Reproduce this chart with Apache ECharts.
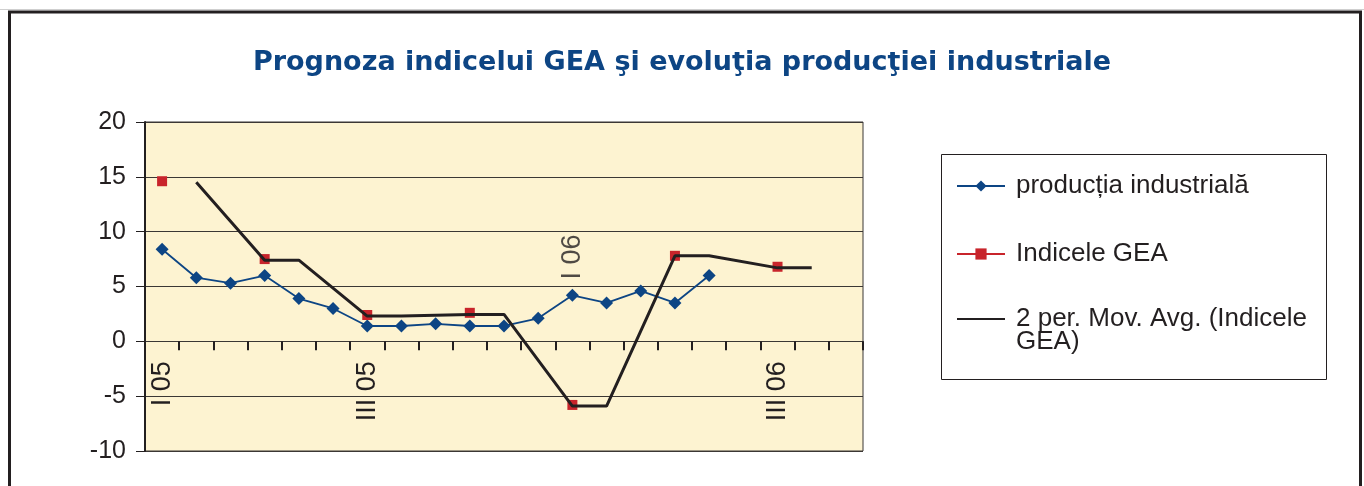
<!DOCTYPE html>
<html><head><meta charset="utf-8">
<script src="https://cdn.jsdelivr.net/npm/echarts@6/dist/echarts.min.js"></script>
<style>html,body{margin:0;padding:0;background:#fff}#c{width:1364px;height:486px}</style>
</head><body><div id="c"></div>
<script>
// ---- data ----
const categories = ['I 05','','','','','','III 05','','','','','','I 06','','','','','','III 06','',''];
const productiaIndustriala = [8.4,5.8,5.3,6.0,3.9,3.0,1.4,1.4,1.6,1.4,1.4,2.1,4.2,3.5,4.6,3.5,6.0,null,null,null,null];
const indiceleGEA = [14.6,null,null,7.5,null,null,2.4,null,null,2.6,null,null,-5.8,null,null,7.8,null,null,6.8,null,null];
const mediaMobila = [null,14.5,null,7.4,7.4,null,2.3,2.3,null,2.45,2.45,null,-5.9,-5.9,null,7.8,7.8,null,6.7,6.7,null];
const yTicks = [-10,-5,0,5,10,15,20];
const seriesNames = ['producția industrială','Indicele GEA','2 per. Mov. Avg. (Indicele GEA)'];
const titleText = 'Prognoza indicelui GEA şi evoluţia producţiei industriale';
const raisedLabelIndex = 12;

const FONT = '"Liberation Sans", Arial, Helvetica, sans-serif';
const INK = '#231f20';
const GRID_TOP = 122, GRID_BOTTOM_Y = 451;
const yMin = yTicks[0], yMax = yTicks[yTicks.length-1];
// shift the category axis up so that it sits on the zero line
const zeroOffset = -(GRID_BOTTOM_Y - GRID_TOP) * (0 - yMin) / (yMax - yMin);

const legendText = {fontFamily: FONT, fontSize: 26, color: INK, lineHeight: 23, padding:[0,0,0,6]};
function legendAt(name, top, extra) {
  return Object.assign({
    orient: 'vertical', left: 956, top: top, padding: 0,
    itemWidth: 48, itemHeight: 14, data: [name], textStyle: legendText
  }, extra || {});
}

const chart = echarts.init(document.getElementById('c'), null, {renderer:'canvas'});
chart.setOption({
  animation: false,
  backgroundColor: '#ffffff',
  textStyle: {fontFamily: FONT},
  title: {
    text: titleText, left: 'center', top: 44,
    textStyle: {fontFamily: '"DejaVu Sans", sans-serif', fontWeight: 'bold', fontSize: 27, color: '#0d4584'}
  },
  graphic: [
    {type:'line', shape:{x1:0,y1:9.5,x2:1364,y2:9.5}, style:{stroke:'#cfcfcf', lineWidth:1}, silent:true},
    {type:'rect', shape:{x:9.5,y:12,width:1351,height:520}, style:{fill:null, stroke:INK, lineWidth:3}, silent:true},
    {type:'rect', shape:{x:941.5,y:154.5,width:385,height:225}, style:{fill:null, stroke:INK, lineWidth:1}, silent:true}
  ],
  grid: {
    left: 145, top: GRID_TOP, right: 501, bottom: 486 - GRID_BOTTOM_Y,
    outerBoundsMode: 'none', containLabel: false,
    show: true, backgroundColor: '#fdf3d1', borderColor: '#3b3734', borderWidth: 1
  },
  legend: [
    legendAt(seriesNames[0], 173),
    legendAt(seriesNames[1], 241),
    legendAt(seriesNames[2], 283, {
      // empty first line keeps the icon level with the first text line
      formatter: () => ' \n2 per. Mov. Avg. (Indicele\nGEA)',
      data: [{name: seriesNames[2], itemStyle: {opacity: 0}}]
    })
  ],
  xAxis: {
    type: 'category', data: categories, boundaryGap: true,
    offset: zeroOffset,
    axisLine: {onZero: false, lineStyle: {color: '#3b3734', width: 1}},
    axisTick: {show: true, alignWithLabel: false, interval: 0, length: 9, lineStyle: {color: INK, width: 2}},
    axisLabel: {
      interval: 0, rotate: 90, margin: 20,
      formatter: (v, i) => i === raisedLabelIndex ? '' : v,
      fontFamily: FONT, fontSize: 27, color: INK
    },
    splitLine: {show: false}
  },
  yAxis: {
    type: 'value', min: yMin, max: yMax, interval: 5,
    axisLine: {show: true, lineStyle: {color: INK, width: 2}},
    axisTick: {show: true, length: 9, lineStyle: {color: INK, width: 1}},
    axisLabel: {margin: 19, fontFamily: FONT, fontSize: 25, color: INK},
    splitLine: {show: true, lineStyle: {color: '#3b3734', width: 1}}
  },
  series: [
    {
      name: seriesNames[0], type: 'line', data: productiaIndustriala, z: 3,
      symbol: 'diamond', symbolSize: 13, showAllSymbol: true,
      lineStyle: {color: '#0d4584', width: 1.8},
      itemStyle: {color: '#0d4584'}
    },
    {
      name: seriesNames[1], type: 'line', data: indiceleGEA, z: 4,
      connectNulls: false, symbol: 'rect', symbolSize: 10, showAllSymbol: true,
      lineStyle: {color: '#c8242b', width: 1},
      itemStyle: {color: '#c8242b'}
    },
    {
      name: seriesNames[2], type: 'line', data: mediaMobila, z: 5,
      connectNulls: true, symbol: 'none',
      lineStyle: {color: INK, width: 3},
      itemStyle: {color: INK}
    },
    {
      name: 'label', type: 'scatter', z: 6, silent: true,
      data: [[raisedLabelIndex, 7.7]],
      symbolSize: 1, itemStyle: {color: 'rgba(0,0,0,0)'},
      label: {
        show: true, position: 'inside', rotate: 90,
        formatter: () => categories[raisedLabelIndex],
        fontFamily: FONT, fontSize: 27, color: INK
      }
    }
  ]
});
</script></body></html>
